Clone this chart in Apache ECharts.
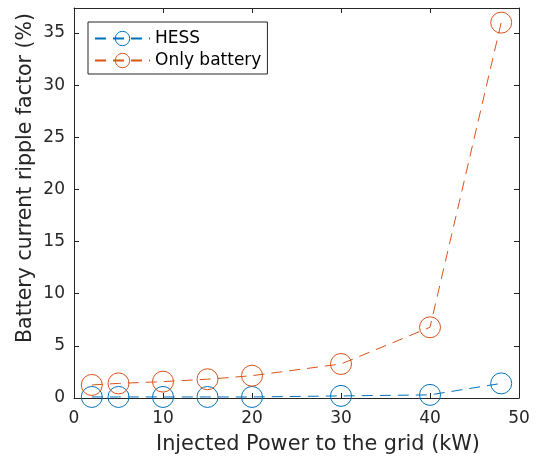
<!DOCTYPE html>
<html><head><meta charset="utf-8">
<script src="https://cdn.jsdelivr.net/npm/echarts@6/dist/echarts.min.js"></script>
<style>html,body{margin:0;padding:0;background:#fff}#c{width:538px;height:461px}</style>
</head><body><div id="c"></div>
<script>
var powerKW = [2, 5, 10, 15, 20, 30, 40, 48];
var hessRipple = [0.1, 0.1, 0.1, 0.1, 0.1, 0.2, 0.3, 1.4];
var batteryRipple = [1.25, 1.4, 1.57, 1.8, 2.14, 3.26, 6.78, 36.0];
var xTicks = [0, 10, 20, 30, 40, 50];
var yTicks = [0, 5, 10, 15, 20, 25, 30, 35];
var xTitle = 'Injected Power to the grid (kW)';
var yTitle = 'Battery current ripple factor (%)';

var font = 'DejaVu Sans';
var axisCol = '#262626';
function pairs(xs, ys){ return xs.map(function(x,i){return [x, ys[i]];}); }
var chart = echarts.init(document.getElementById('c'));
var baseX = {type:'value', min:0, max:50, interval:10,
  axisLine:{show:true, onZero:false, lineStyle:{color:axisCol, width:1}},
  axisTick:{show:true, inside:true, length:5, lineStyle:{color:axisCol}},
  splitLine:{show:false}};
var baseY = {type:'value', min:0, max:37.4, interval:5,
  axisLine:{show:true, onZero:false, lineStyle:{color:axisCol, width:1}},
  axisTick:{show:true, inside:true, length:5, lineStyle:{color:axisCol}},
  splitLine:{show:false}};
function ser(name, ys, col){
  return {name:name, type:'line', data:pairs(powerKW, ys), symbol:'circle', symbolSize:21,
    itemStyle:{color:'rgba(255,255,255,0)', borderColor:col, borderWidth:1},
    lineStyle:{color:col, width:1, type:[11,7]}, z:3};
}
chart.setOption({
  animation:false,
  grid:{left:74, right:19, top:8, bottom:63, outerBoundsMode:'none', containLabel:false},
  xAxis:[
    Object.assign({}, baseX, {position:'bottom',
      axisLabel:{fontFamily:font, fontSize:17, color:axisCol, margin:12}}),
    Object.assign({}, baseX, {position:'top', axisLabel:{show:false}})
  ],
  yAxis:[
    Object.assign({}, baseY, {position:'left',
      axisLabel:{fontFamily:font, fontSize:17, color:axisCol, margin:9,
        formatter:function(v){return yTicks.indexOf(v)>=0 ? String(v) : '';}}}),
    Object.assign({}, baseY, {position:'right', axisLabel:{show:false}})
  ],
  graphic:[
    {type:'text', x:318, y:445, style:{text:xTitle, fontFamily:font, fontSize:20.8, fill:axisCol, align:'center', verticalAlign:'middle'}},
    {type:'text', x:26, y:178, rotation:Math.PI/2, style:{text:yTitle, fontFamily:font, fontSize:20.5, fill:axisCol, align:'center', verticalAlign:'middle'}}
  ],
  legend:{left:88, top:22, orient:'vertical', itemWidth:55, itemHeight:18, itemGap:5,
    padding:[8,6,5,6], borderColor:axisCol, borderWidth:1, backgroundColor:'#fff',
    itemStyle:{borderWidth:1},
    textStyle:{fontFamily:font, fontSize:17, color:'#000'},
    data:['HESS','Only battery']},
  series:[ser('HESS', hessRipple, '#0072BD'), ser('Only battery', batteryRipple, '#D95319')]
});
</script></body></html>
